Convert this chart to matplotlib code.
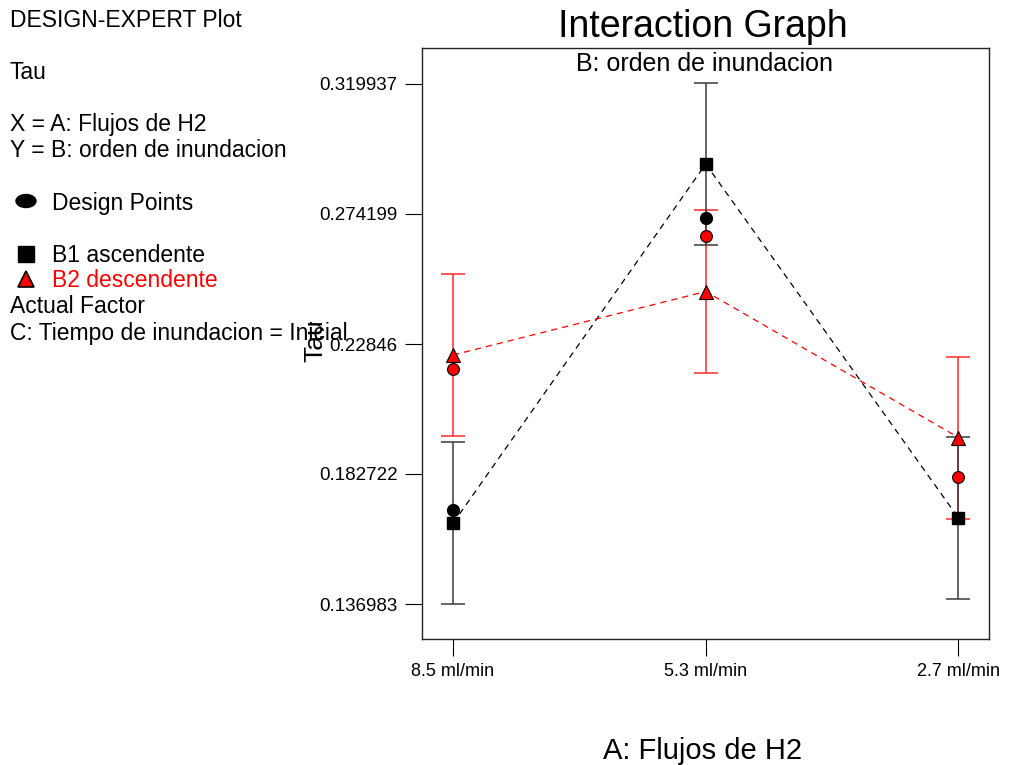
import matplotlib
matplotlib.use("Agg")
import matplotlib.pyplot as plt
from matplotlib.patches import Ellipse

plt.rcParams['font.family'] = ['Liberation Sans', 'DejaVu Sans']

# Factor A levels (x axis)
levels = ["8.5 ml/min", "5.3 ml/min", "2.7 ml/min"]

# Predicted means of Tau for each level of factor B
b1_mean = [0.16538, 0.29179, 0.16724]   # B1 ascendente
b2_mean = [0.22459, 0.24693, 0.19556]   # B2 descendente
lsd_half = 0.0285                       # half-width of the LSD bars

# Observed design points
design_b1_x = [0, 1]
design_b1 = [0.17006, 0.27279]
design_b2_x = [0, 1, 2]
design_b2 = [0.21967, 0.26646, 0.18167]

# Y axis ticks
ytick_vals = [0.136983, 0.182722, 0.22846, 0.274199, 0.319937]
ytick_labels = ["0.136983", "0.182722", "0.22846", "0.274199", "0.319937"]
ylim = (0.124669, 0.332603)

W, H = 1009, 765
fig = plt.figure(figsize=(W / 100, H / 100), dpi=100)

left, right, top, bottom = 422, 989, 48, 639
ax = fig.add_axes([left / W, 1 - bottom / H, (right - left) / W, (bottom - top) / H])

x = list(range(len(levels)))

# dashed interaction lines
ax.plot(x, b1_mean, ls=(0, (5, 4)), color='black', lw=0.9, zorder=2)
ax.plot(x, b2_mean, ls=(0, (5, 4)), color='red', lw=0.9, zorder=2)

# LSD bars
eb2 = ax.errorbar(x, b2_mean, yerr=lsd_half, fmt='none', ecolor='#ff2a2a',
                  elinewidth=1.1, capsize=8.3, capthick=1.1, zorder=3)
eb1 = ax.errorbar(x, b1_mean, yerr=lsd_half, fmt='none', ecolor='#3a3a3a',
                  elinewidth=1.1, capsize=8.3, capthick=1.1, zorder=3)
for cap in eb1[1]:
    cap.set_color('black')
for cap in eb2[1]:
    cap.set_color('#ff4a4a')

# means
ax.plot(x, b1_mean, 's', color='black', ms=8.8, zorder=4)
ax.plot(x, b2_mean, '^', mfc='red', mec='black', mew=0.8, ms=10, zorder=4)

# design points
ax.plot(design_b1_x, design_b1, 'o', color='black', ms=8.5, zorder=5)
ax.plot(design_b2_x, design_b2, 'o', mfc='red', mec='black', mew=0.8, ms=8.5, zorder=5)

ax.set_xlim(-0.1227, 2.1207)
ax.set_ylim(*ylim)
ax.set_xticks(x, levels)
ax.set_yticks(ytick_vals, ytick_labels)
ax.tick_params(axis='y', direction='out', length=12.5, width=0.8, pad=5, labelsize=13.5)
ax.tick_params(axis='x', direction='out', length=12.5, width=0.8, pad=5, labelsize=13)
for sp in ax.spines.values():
    sp.set_linewidth(1.0)
    sp.set_color('#222222')

# overlay in pixel coordinates for the annotation block and labels
ov = fig.add_axes([0, 0, 1, 1], zorder=10)
ov.set_xlim(0, W)
ov.set_ylim(H, 0)
ov.axis('off')
ov.patch.set_alpha(0)

ov.text(703, 37, "Interaction Graph", fontsize=27, ha='center', va='baseline')
ov.text(704, 71, "B: orden de inundacion", fontsize=18, ha='center', va='baseline')

info_fs = 16.5
ov.text(10, 27, "DESIGN-EXPERT Plot", fontsize=info_fs, va='baseline')
ov.text(10, 79, "Tau", fontsize=info_fs, va='baseline')
ov.text(10, 131, "X = A: Flujos de H2", fontsize=info_fs, va='baseline')
ov.text(10, 157, "Y = B: orden de inundacion", fontsize=info_fs, va='baseline')

ov.add_patch(Ellipse((26, 201), 20, 13, color='black'))
ov.text(52, 210, "Design Points", fontsize=info_fs, va='baseline')

ov.plot([26], [254], 's', color='black', ms=11, clip_on=False)
ov.text(52, 262, "B1 ascendente", fontsize=info_fs, va='baseline')
ov.plot([26], [279], '^', mfc='red', mec='black', mew=1.2, ms=11.5, clip_on=False)
ov.text(52, 287, "B2 descendente", fontsize=info_fs, va='baseline', color='red')
ov.text(10, 313, "Actual Factor", fontsize=info_fs, va='baseline')
ov.text(10, 340, "C: Tiempo de inundacion = Inicial", fontsize=info_fs, va='baseline')

ov.text(315, 341, "Tau", fontsize=19, rotation=90, ha='center', va='center')
ov.text(703, 759, "A: Flujos de H2", fontsize=21, ha='center', va='baseline')

fig.savefig("out.png", dpi=100)
